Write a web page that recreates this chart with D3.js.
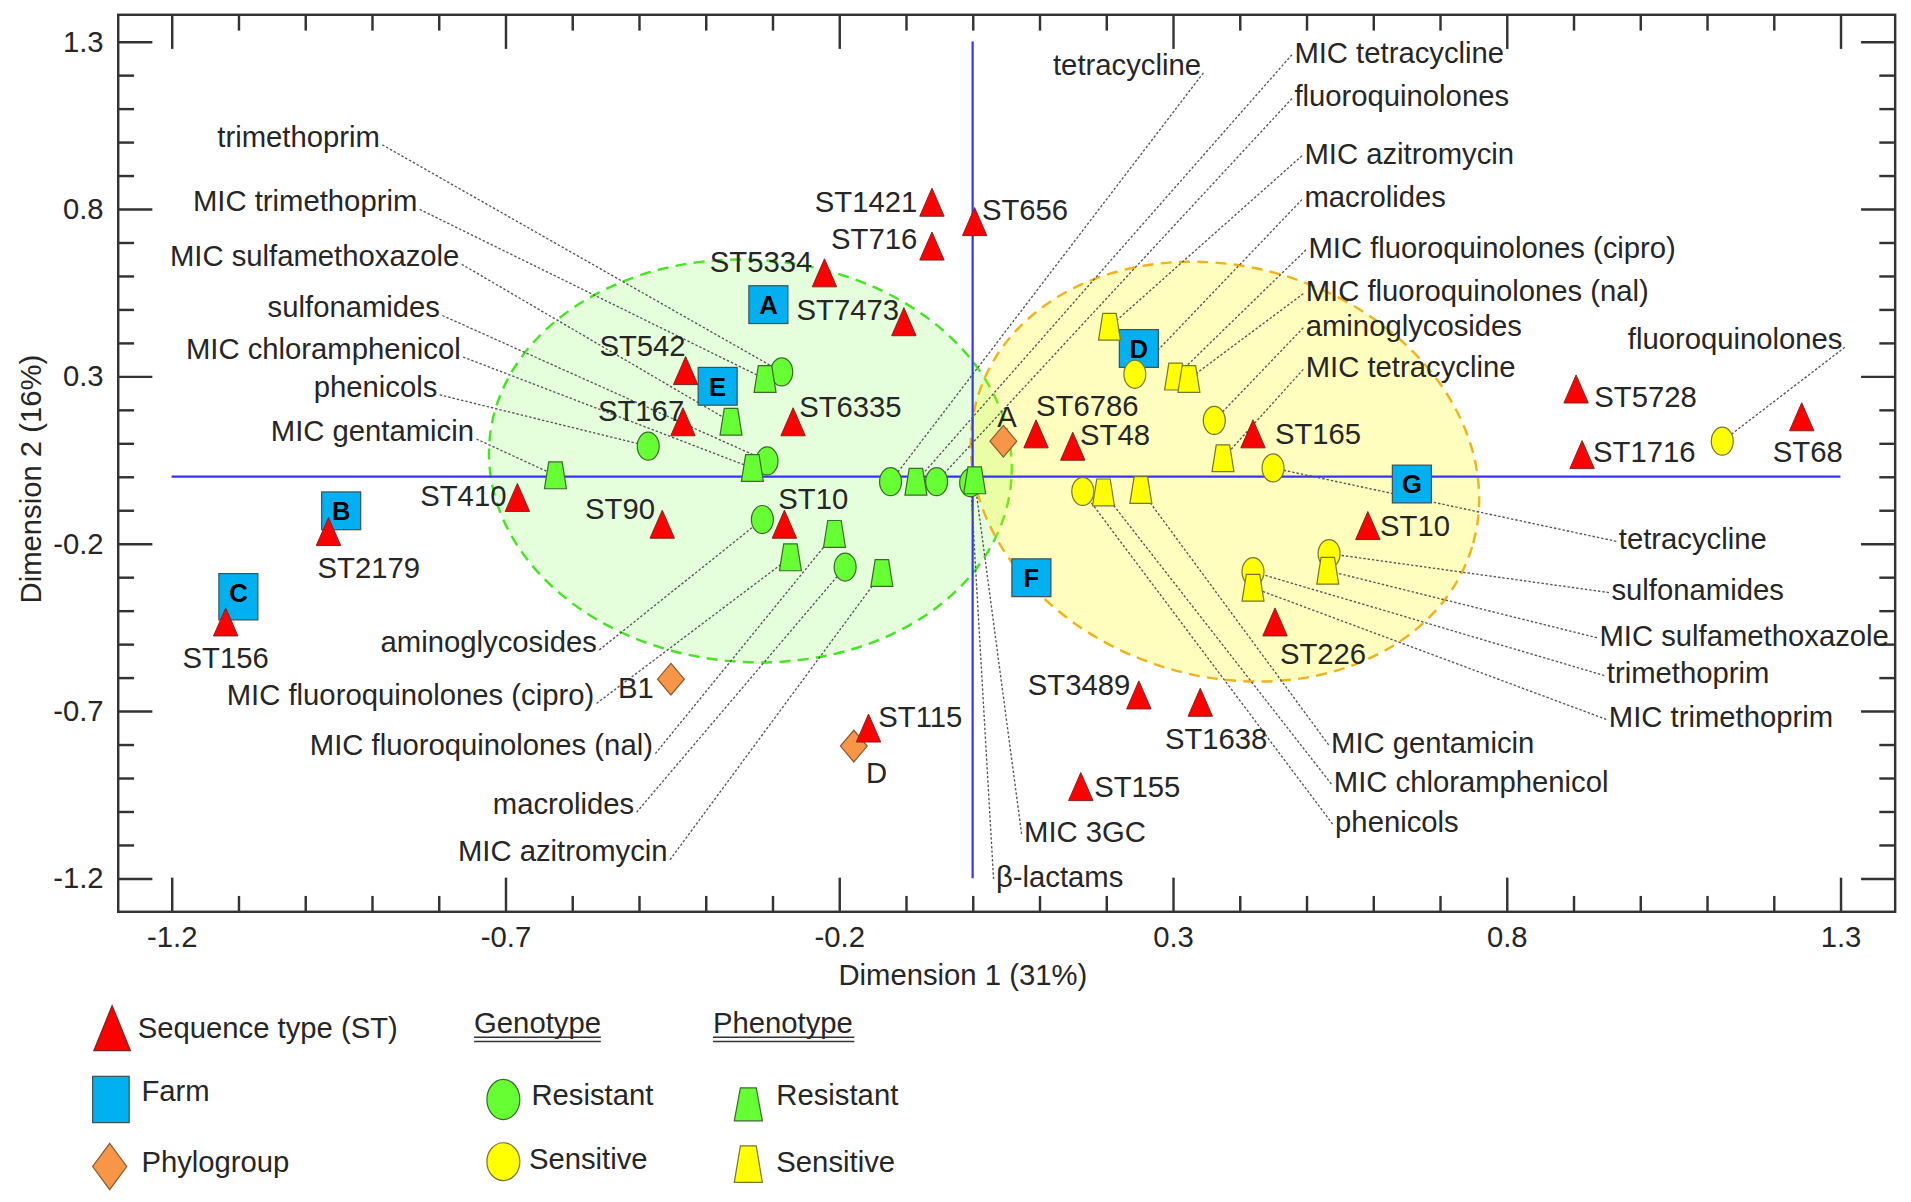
<!DOCTYPE html>
<html>
<head>
<meta charset="utf-8">
<script src="https://cdn.jsdelivr.net/npm/d3@7"></script>
<style>
body{margin:0;background:#fff;}
svg text{font-family:"Liberation Sans",Arial,sans-serif;fill:#262626;}
</style>
</head>
<body>
<svg id="chart" width="1911" height="1202" viewBox="0 0 1568 986"></svg>
<script>

// ---- data ----
var tick_labels = [-1.2, -0.7, -0.2, 0.3, 0.8, 1.3];

// sequence types (red triangles)
var st_names = ["ST1421","ST656","ST716","ST5334","ST7473","ST542","ST167","ST6335","ST410","ST90","ST10","ST2179","ST156",
  "ST115","ST6786","ST48","ST165","ST10","ST226","ST3489","ST1638","ST155","ST5728","ST1716","ST68"];
var st_x = [-0.061,0.003,-0.061,-0.222,-0.103,-0.430,-0.434,-0.269,-0.682,-0.465,-0.282,-0.965,-1.119,
  -0.156,0.095,0.150,0.420,0.592,0.453,0.249,0.341,0.162,0.904,0.913,1.242];
var st_y = [0.820,0.762,0.689,0.609,0.463,0.317,0.164,0.164,-0.062,-0.142,-0.142,-0.164,-0.434,
  -0.751,0.128,0.091,0.128,-0.146,-0.434,-0.652,-0.674,-0.926,0.262,0.066,0.179];

// farms (blue squares)
var farm_names = ["A","E","B","C","D","G","F"];
var farm_x = [-0.306,-0.382,-0.946,-1.100,0.249,0.658,0.088];
var farm_y = [0.514,0.270,-0.102,-0.346,0.383,-0.022,-0.302];

// phylogroups (orange diamonds)
var phylo_names = ["A","B1","D"];
var phylo_x = [0.046,-0.452,-0.178];
var phylo_y = [0.106,-0.605,-0.805];

// genotype resistant (green circles)
var geno_res = ["trimethoprim","sulfonamides","phenicols","aminoglycosides","macrolides","tetracycline","fluoroquinolones","β-lactams"];
var geno_res_x = [-0.286,-0.308,-0.486,-0.315,-0.191,-0.123,-0.054,-0.003];
var geno_res_y = [0.313,0.047,0.091,-0.128,-0.270,-0.015,-0.015,-0.018];

// phenotype resistant (green trapezoids)
var pheno_res = ["MIC trimethoprim","MIC sulfamethoxazole","MIC gentamicin","MIC chloramphenicol","MIC tetracycline","MIC 3GC",
  "MIC fluoroquinolones (cipro)","MIC fluoroquinolones (nal)","MIC azitromycin"];
var pheno_res_x = [-0.311,-0.362,-0.625,-0.330,-0.085,0.003,-0.273,-0.207,-0.136];
var pheno_res_y = [0.292,0.164,0.004,0.026,-0.015,-0.011,-0.241,-0.171,-0.288];

// genotype sensitive (yellow circles)
var geno_sen = ["macrolides","aminoglycosides","tetracycline","phenicols","trimethoprim","sulfonamides","fluoroquinolones"];
var geno_sen_x = [0.243,0.362,0.450,0.165,0.420,0.534,1.123];
var geno_sen_y = [0.306,0.168,0.026,-0.044,-0.284,-0.230,0.106];

// phenotype sensitive (yellow trapezoids)
var pheno_sen = ["MIC azitromycin","MIC fluoroquinolones (cipro)","MIC fluoroquinolones (nal)","MIC tetracycline",
  "MIC chloramphenicol","MIC gentamicin","MIC trimethoprim","MIC sulfamethoxazole"];
var pheno_sen_x = [0.205,0.304,0.324,0.375,0.196,0.252,0.420,0.532];
var pheno_sen_y = [0.448,0.299,0.292,0.055,-0.047,-0.040,-0.332,-0.281];

// ---- layout: where the callout texts sit (data units) + anchor ----
var geno_res_lab = [[-0.888,1.017,"end"],[-0.798,0.507,"end"],[-0.802,0.270,"end"],[-0.563,-0.492,"end"],
  [-0.507,-0.977,"end"],[0.342,1.232,"end"],[0.482,1.137,"start"],[0.035,-1.195,"start"]];
var pheno_res_lab = [[-0.832,0.824,"end"],[-0.769,0.660,"end"],[-0.747,0.138,"end"],[-0.767,0.383,"end"],
  [0.482,1.268,"start"],[0.077,-1.060,"start"],[-0.567,-0.652,"end"],[-0.479,-0.802,"end"],[-0.457,-1.119,"end"]];
var geno_sen_lab = [[0.497,0.835,"start"],[0.499,0.452,"start"],[0.968,-0.186,"start"],[0.543,-1.031,"start"],
  [0.950,-0.587,"start"],[0.957,-0.339,"start"],[1.303,0.412,"end"]];
var pheno_sen_lab = [[0.497,0.966,"start"],[0.503,0.685,"start"],[0.499,0.554,"start"],[0.499,0.328,"start"],
  [0.541,-0.911,"start"],[0.537,-0.794,"start"],[0.953,-0.718,"start"],[0.939,-0.474,"start"]];

// ST label offsets from triangle, pixels: [anchor, dx, dy]
var st_lab = [["end",-12,0],["start",6,-10],["end",-12,-6],["end",-10,-9],["end",-4,-10],["end",0,-20],["end",1,-9],
  ["start",5,-12],["end",-9,-1],["end",-6,-13],["start",-5,-21],["start",-9,30],["middle",0,29],
  ["start",8,-9],["start",0,-23],["start",6,-9],["start",18,0],["start",10,0],["start",4,26],["end",-7,-8],
  ["middle",13,30],["start",11,0],["start",15,6],["start",9,-2],["middle",5,29]];
var phylo_lab = [["middle",3,-20],["end",-14,7],["start",10,22]];
// farm C is drawn as a taller box in the original
var farm_box_h = {"C": 38};

// ---- drawing ----
var svg = d3.select("#chart");
var L = 97, R = 1555, T = 12, B = 748;
var x = d3.scaleLinear().domain([-1.28, 1.382]).range([L, R]);
var y = d3.scaleLinear().domain([-1.30, 1.38]).range([B, T]);

var fs = 24;

// confidence ellipses
function ell(cx, cy, rx, ry, rot, fill, stroke)
{
  svg.append("ellipse")
    .attr("transform", "translate(" + x(cx) + "," + y(cy) + ") rotate(" + rot + ")")
    .attr("rx", x(rx) - x(0)).attr("ry", y(0) - y(ry))
    .style("fill", fill).style("stroke", stroke)
    .style("stroke-width", 2).style("stroke-dasharray", "9,6");
}
ell(-0.333, 0.047, 0.392, 0.601, 4, "rgba(102,255,51,0.17)", "#44e622");
ell(0.378, 0.015, 0.387, 0.612, 17, "rgba(255,250,0,0.25)", "#f2b21c");

// blue reference lines
svg.append("line").attr("x1", x(-1.2)).attr("x2", x(1.3)).attr("y1", y(0)).attr("y2", y(0))
  .style("stroke", "#3535f5").style("stroke-width", 1.8);
svg.append("line").attr("x1", x(0)).attr("x2", x(0)).attr("y1", y(1.3)).attr("y2", y(-1.2))
  .style("stroke", "#3535f5").style("stroke-width", 1.8);

// frame + ticks
var minor = d3.range(-12, 14).map(i => i / 10).filter(v => tick_labels.indexOf(v) == -1);
function ax(gen, scale, tr, vals, size, labels)
{
  var a = gen(scale).tickValues(vals).tickSize(-size).tickSizeOuter(0)
    .tickPadding(labels ? 12 : 0).tickFormat(labels ? (d => d.toFixed(1)) : "");
  var g = svg.append("g").attr("transform", tr).call(a);
  g.select(".domain").remove();
  g.selectAll("line").style("stroke", "#333").style("stroke-width", 2);
  g.selectAll("text").style("font-size", fs + "px").style("font-family", "Liberation Sans,Arial,sans-serif").style("fill", "#262626");
}
ax(d3.axisBottom, x, "translate(0," + B + ")", tick_labels, 28, true);
ax(d3.axisBottom, x, "translate(0," + B + ")", minor, 13, false);
ax(d3.axisTop, x, "translate(0," + T + ")", tick_labels, 28, false);
ax(d3.axisTop, x, "translate(0," + T + ")", minor, 13, false);
ax(d3.axisLeft, y, "translate(" + L + ",0)", tick_labels, 28, true);
ax(d3.axisLeft, y, "translate(" + L + ",0)", minor, 13, false);
ax(d3.axisRight, y, "translate(" + R + ",0)", tick_labels, 28, false);
ax(d3.axisRight, y, "translate(" + R + ",0)", minor, 13, false);
svg.append("rect").attr("x", L).attr("y", T).attr("width", R - L).attr("height", B - T)
  .style("fill", "none").style("stroke", "#333").style("stroke-width", 2);

svg.append("text").attr("x", 790).attr("y", 800).attr("dy", "0.35em").attr("text-anchor", "middle")
  .style("font-size", fs + "px").text("Dimension 1 (31%)");
svg.append("text").attr("transform", "translate(25,393) rotate(-90)").attr("dy", "0.35em").attr("text-anchor", "middle")
  .style("font-size", fs + "px").text("Dimension 2 (16%)");

// callout lines + texts
var callouts = svg.append("g");
var lines = svg.append("g");
function leaders(names, xs, ys, labs)
{
  for(var i=0;i<names.length;i++)
  {
    var lx = x(labs[i][0]), ly = y(labs[i][1]), anc = labs[i][2];
    var sx = anc == "end" ? lx + 2 : lx - 2;
    var sy = anc == "end" ? ly + 7 : ly + 2;
    lines.append("line").attr("x1", sx).attr("y1", sy).attr("x2", x(xs[i])).attr("y2", y(ys[i]))
      .style("stroke", "#555").style("stroke-width", 1.1).style("stroke-dasharray", "2,1.6");
    callouts.append("text").attr("x", lx).attr("y", ly).attr("dy", "0.35em").attr("text-anchor", anc)
      .style("font-size", fs + "px").text(names[i]);
  }
}
leaders(geno_res, geno_res_x, geno_res_y, geno_res_lab);
leaders(pheno_res, pheno_res_x, pheno_res_y, pheno_res_lab);
leaders(geno_sen, geno_sen_x, geno_sen_y, geno_sen_lab);
leaders(pheno_sen, pheno_sen_x, pheno_sen_y, pheno_sen_lab);

// marker shapes
function tri_path(w, h){ return "M0," + (-h) + "L" + w + "," + h + "L" + (-w) + "," + h + "Z"; }
function trap_path(tw, bw, h){ return "M" + (-tw) + "," + (-h) + "L" + tw + "," + (-h) + "L" + bw + "," + h + "L" + (-bw) + "," + h + "Z"; }
function dia_path(w, h){ return "M0," + (-h) + "L" + w + ",0L0," + h + "L" + (-w) + ",0Z"; }

var marks = svg.append("g");

// farms
var fg = marks.selectAll(".farm").data(farm_names).enter().append("g").attr("class", "farm")
  .attr("transform", (d, i) => "translate(" + x(farm_x[i]) + "," + y(farm_y[i]) + ")");
fg.append("rect").attr("x", -16).attr("y", -15.5).attr("width", 32).attr("height", d => farm_box_h[d] || 31)
  .style("fill", "#00b0f0").style("stroke", "#40515c").style("stroke-width", 1);
fg.append("text").attr("dy", "0.36em").attr("text-anchor", "middle").style("font-size", "21px")
  .style("font-weight", "bold").style("fill", "#000").text(d => d);

function circles(xs, ys, col, stroke)
{
  marks.selectAll(null).data(xs).enter().append("ellipse")
    .attr("cx", (d, i) => x(xs[i])).attr("cy", (d, i) => y(ys[i])).attr("rx", 9).attr("ry", 11.5)
    .style("fill", col).style("stroke", stroke).style("stroke-width", 1);
}
function traps(xs, ys, col, stroke)
{
  marks.selectAll(null).data(xs).enter().append("path").attr("d", trap_path(5.5, 9, 11))
    .attr("transform", (d, i) => "translate(" + x(xs[i]) + "," + y(ys[i]) + ")")
    .style("fill", col).style("stroke", stroke).style("stroke-width", 1);
}
circles(geno_res_x, geno_res_y, "#66ff33", "#3d6b2c");
circles(geno_sen_x, geno_sen_y, "#ffff00", "#77772e");
traps(pheno_res_x, pheno_res_y, "#66ff33", "#3d6b2c");
traps(pheno_sen_x, pheno_sen_y, "#ffff00", "#77772e");

// phylogroups
marks.selectAll(".phylo").data(phylo_names).enter().append("path").attr("class", "phylo")
  .attr("d", dia_path(11, 13))
  .attr("transform", (d, i) => "translate(" + x(phylo_x[i]) + "," + y(phylo_y[i]) + ")")
  .style("fill", "#f79646").style("stroke", "#8d5a33").style("stroke-width", 1);
svg.selectAll(".phylo_lab").data(phylo_names).enter().append("text").attr("class", "phylo_lab")
  .attr("x", (d, i) => x(phylo_x[i]) + phylo_lab[i][1]).attr("y", (d, i) => y(phylo_y[i]) + phylo_lab[i][2])
  .attr("dy", "0.35em").attr("text-anchor", (d, i) => phylo_lab[i][0])
  .style("font-size", fs + "px").text(d => d);

// sequence types
marks.selectAll(".st").data(st_names).enter().append("path").attr("class", "st")
  .attr("d", tri_path(10, 11.5))
  .attr("transform", (d, i) => "translate(" + x(st_x[i]) + "," + y(st_y[i]) + ")")
  .style("fill", "#ff0000").style("stroke", "#7d2222").style("stroke-width", 0.8);
svg.selectAll(".st_lab").data(st_names).enter().append("text").attr("class", "st_lab")
  .attr("x", (d, i) => x(st_x[i]) + st_lab[i][1]).attr("y", (d, i) => y(st_y[i]) + st_lab[i][2])
  .attr("dy", "0.35em").attr("text-anchor", (d, i) => st_lab[i][0])
  .style("font-size", fs + "px").text(d => d);

// ---- legend ----
var lg = svg.append("g");
lg.append("path").attr("d", tri_path(15, 18.5)).attr("transform", "translate(92,843.5)")
  .style("fill", "#ff0000").style("stroke", "#7d2222");
lg.append("rect").attr("x", 76).attr("y", 883).attr("width", 30).attr("height", 38)
  .style("fill", "#00b0f0").style("stroke", "#40515c");
lg.append("path").attr("d", dia_path(14, 19)).attr("transform", "translate(90,957)")
  .style("fill", "#f79646").style("stroke", "#8d5a33");
lg.append("ellipse").attr("cx", 413).attr("cy", 902).attr("rx", 13.5).attr("ry", 16.5)
  .style("fill", "#66ff33").style("stroke", "#3d6b2c");
lg.append("ellipse").attr("cx", 413).attr("cy", 953).attr("rx", 13.5).attr("ry", 15.5)
  .style("fill", "#ffff00").style("stroke", "#77772e");
lg.append("path").attr("d", trap_path(6.5, 11.5, 13.5)).attr("transform", "translate(614,906)")
  .style("fill", "#66ff33").style("stroke", "#3d6b2c");
lg.append("path").attr("d", trap_path(6.5, 11.5, 15)).attr("transform", "translate(614,955)")
  .style("fill", "#ffff00").style("stroke", "#77772e");

var legend_txt = [[113,843,"Sequence type (ST)"],[116,895,"Farm"],[116,953,"Phylogroup"],
  [389,839,"Genotype"],[585,839,"Phenotype"],[436,898,"Resistant"],[434,951,"Sensitive"],
  [637,898,"Resistant"],[637,953,"Sensitive"]];
legend_txt.forEach(function(t){
  lg.append("text").attr("x", t[0]).attr("y", t[1]).attr("dy", "0.35em").style("font-size", fs + "px").text(t[2]);
});
// double underline under the two headers
[[389,493],[585,701]].forEach(function(u){
  lg.append("line").attr("x1", u[0]).attr("x2", u[1]).attr("y1", 851).attr("y2", 851).style("stroke", "#333").style("stroke-width", 1.2);
  lg.append("line").attr("x1", u[0]).attr("x2", u[1]).attr("y1", 854.5).attr("y2", 854.5).style("stroke", "#333").style("stroke-width", 1.2);
});

</script>
</body>
</html>
